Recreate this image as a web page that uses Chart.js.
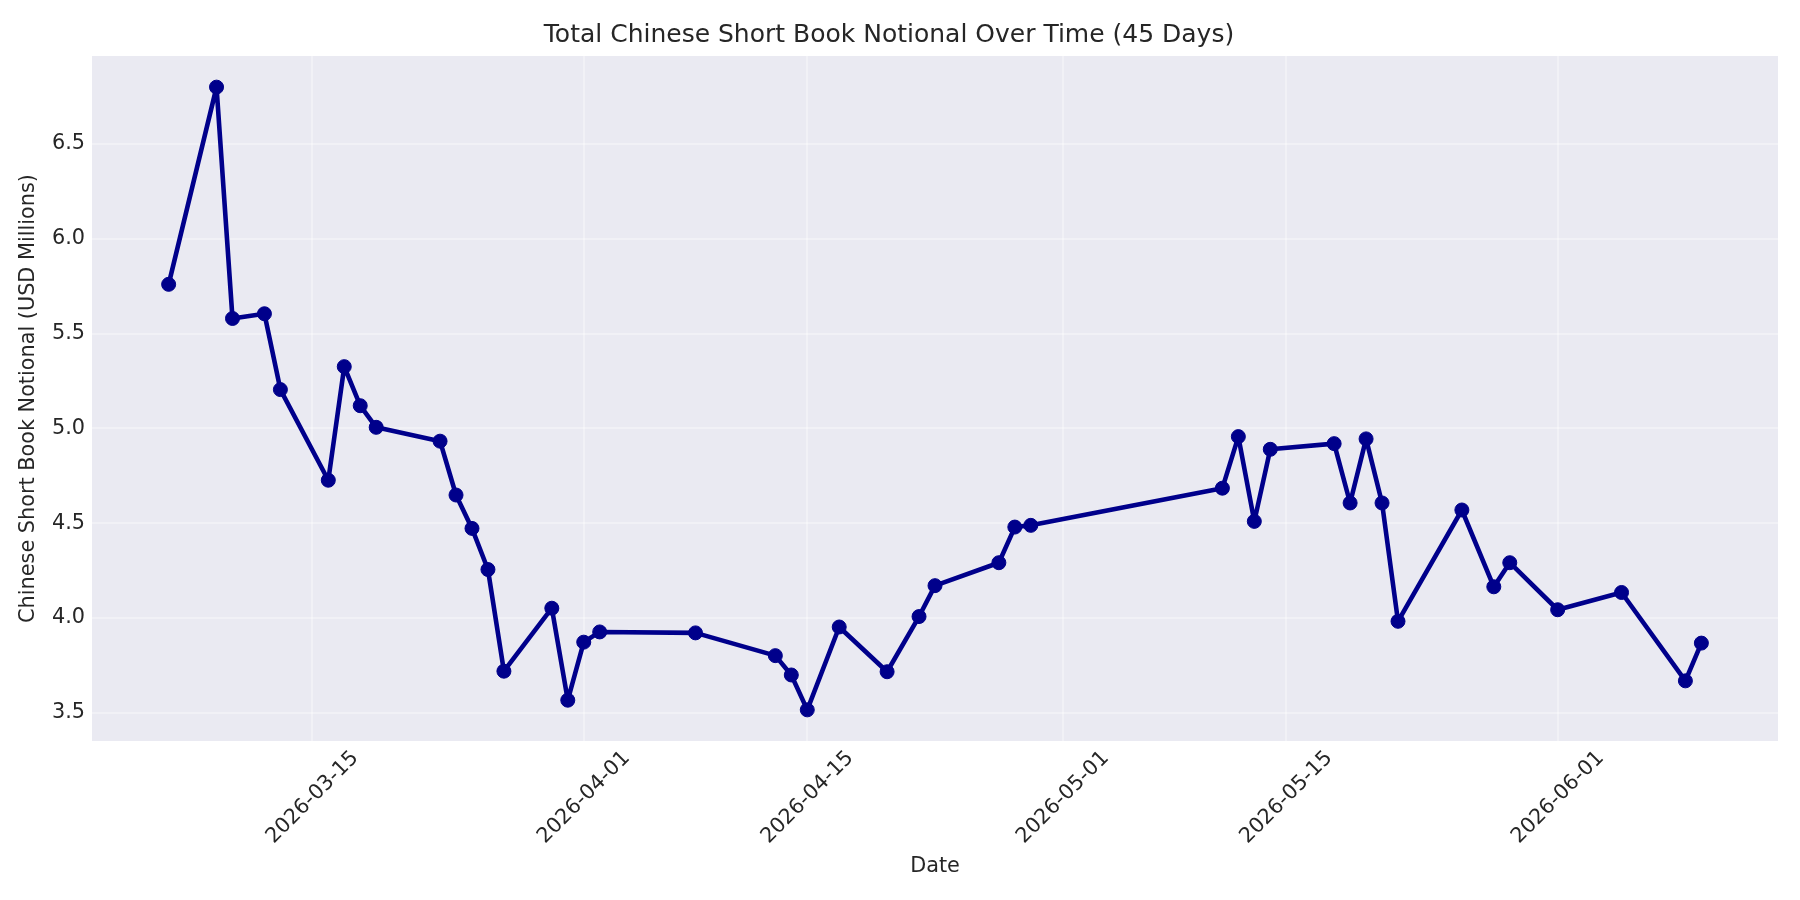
<!DOCTYPE html>
<html>
<head>
<meta charset="utf-8">
<title>Total Chinese Short Book Notional Over Time</title>
<script src="https://cdn.jsdelivr.net/npm/chart.js@4.4.1/dist/chart.umd.min.js"></script>
<style>
  html, body { margin: 0; padding: 0; background: #ffffff; }
  canvas { display: block; }
</style>
</head>
<body>
<canvas id="notionalChart" width="1800" height="900"></canvas>
<script>
// data
const dates = [
    "2026-03-06", "2026-03-09", "2026-03-10", "2026-03-12", "2026-03-13",
    "2026-03-16", "2026-03-17", "2026-03-18", "2026-03-19", "2026-03-23",
    "2026-03-24", "2026-03-25", "2026-03-26", "2026-03-27", "2026-03-30",
    "2026-03-31", "2026-04-01", "2026-04-02", "2026-04-08", "2026-04-13",
    "2026-04-14", "2026-04-15", "2026-04-17", "2026-04-20", "2026-04-22",
    "2026-04-23", "2026-04-27", "2026-04-28", "2026-04-29", "2026-05-11",
    "2026-05-12", "2026-05-13", "2026-05-14", "2026-05-18", "2026-05-19",
    "2026-05-20", "2026-05-21", "2026-05-22", "2026-05-26", "2026-05-28",
    "2026-05-29", "2026-06-01", "2026-06-05", "2026-06-09", "2026-06-10"
];

const notional = [
    5.76, 6.80, 5.58, 5.605, 5.205,
    4.727, 5.326, 5.12, 5.006, 4.933,
    4.649, 4.473, 4.256, 3.72, 4.052,
    3.567, 3.873, 3.927, 3.922, 3.802,
    3.70, 3.516, 3.953, 3.717, 4.008,
    4.171, 4.292, 4.48, 4.489, 4.685,
    4.957, 4.51, 4.89, 4.92, 4.607,
    4.945, 4.607, 3.983, 4.57, 4.165,
    4.292, 4.044, 4.135, 3.669, 3.868
];

const xTickLabels = ["2026-03-15", "2026-04-01", "2026-04-15", "2026-05-01", "2026-05-15", "2026-06-01"];
const yTickValues = [3.5, 4.0, 4.5, 5.0, 5.5, 6.0, 6.5];

const DAY = 86400000;
const TEXT = "#262626";
const FONT = "'DejaVu Sans', 'Liberation Sans', sans-serif";
const GRID = "rgba(255,255,255,0.35)";

function toDay(s) {
    return Date.parse(s + "T00:00:00Z") / DAY;
}

function fromDay(d) {
    return new Date(Math.round(d) * DAY).toISOString().slice(0, 10);
}

// matplotlib style 5% margins around the data
function paddedRange(values) {
    const lo = Math.min(...values);
    const hi = Math.max(...values);
    const pad = (hi - lo) * 0.05;
    return [lo - pad, hi + pad];
}

const points = dates.map((d, i) => ({ x: toDay(d), y: notional[i] }));
const [xMin, xMax] = paddedRange(points.map(p => p.x));
const [yMin, yMax] = paddedRange(notional);

const ctx = document.getElementById("notionalChart").getContext("2d");

new Chart(ctx, {
    type: "line",
    data: {
        datasets: [{
            label: "Total Short Notional",
            data: points,
            borderColor: "#00008B",
            backgroundColor: "#00008B",
            borderWidth: 4.6,
            borderJoinStyle: "round",
            borderCapStyle: "round",
            pointRadius: 7,
            pointBorderWidth: 1,
            pointBackgroundColor: "#00008B",
            pointBorderColor: "#00008B",
            tension: 0,
            fill: false
        }]
    },
    options: {
        responsive: false,
        animation: false,
        devicePixelRatio: 1,
        layout: { padding: { left: 0, right: 22, top: 0, bottom: 0 } },
        plugins: {
            legend: { display: false },
            tooltip: { enabled: false },
            title: {
                display: true,
                text: "Total Chinese Short Book Notional Over Time (45 Days)",
                color: TEXT,
                font: { family: FONT, size: 25, weight: "normal" },
                padding: { top: 20, bottom: 6 }
            }
        },
        scales: {
            x: {
                type: "linear",
                min: xMin,
                max: xMax,
                border: { display: false },
                grid: { color: GRID, lineWidth: 2, drawTicks: false },
                afterBuildTicks: scale => {
                    scale.ticks = xTickLabels.map(t => ({ value: toDay(t) }));
                },
                afterFit: scale => { scale.height = 159; },
                ticks: {
                    autoSkip: false,
                    minRotation: 45,
                    maxRotation: 45,
                    padding: 5,
                    labelOffset: 43,
                    color: TEXT,
                    font: { family: FONT, size: 20.8 },
                    callback: v => fromDay(v)
                },
                title: {
                    display: true,
                    text: "Date",
                    color: TEXT,
                    font: { family: FONT, size: 20.8 },
                    padding: { top: 0, bottom: 21 }
                }
            },
            y: {
                min: yMin,
                max: yMax,
                border: { display: false },
                grid: { color: GRID, lineWidth: 2, drawTicks: false },
                afterBuildTicks: scale => {
                    scale.ticks = yTickValues.map(v => ({ value: v }));
                },
                afterFit: scale => { scale.width = 92; },
                ticks: {
                    padding: 7,
                    color: TEXT,
                    font: { family: FONT, size: 20.8 },
                    callback: v => v.toFixed(1)
                },
                title: {
                    display: true,
                    text: "Chinese Short Book Notional (USD Millions)",
                    color: TEXT,
                    font: { family: FONT, size: 20.8 },
                    padding: { top: 16, bottom: 0 }
                }
            }
        }
    },
    plugins: [{
        id: "plotBackground",
        beforeDraw: chart => {
            const { ctx, chartArea } = chart;
            ctx.save();
            ctx.fillStyle = "#EAEAF2";
            ctx.fillRect(chartArea.left, chartArea.top, chartArea.right - chartArea.left, chartArea.bottom - chartArea.top);
            ctx.restore();
        }
    }]
});
</script>
</body>
</html>
